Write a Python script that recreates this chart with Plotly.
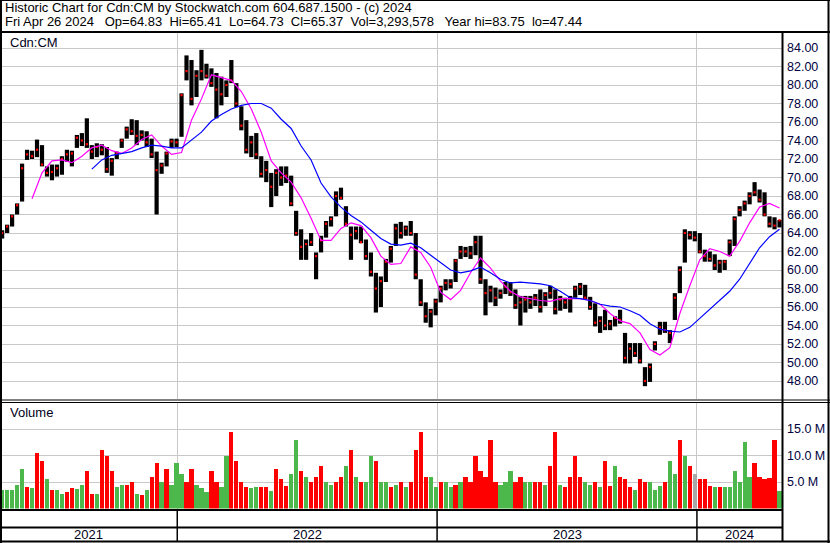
import plotly.graph_objects as go
import pandas as pd

# ---------------- data (weekly) ----------------
week_dates = pd.date_range("2021-04-30", periods=157, freq="7D")

high = [64.3, 64.9, 66.0, 67.2, 71.5, 73.0, 72.9, 74.1, 73.5, 71.2,
        71.4, 71.4, 72.3, 73.0, 72.9, 74.6, 74.8, 76.4, 73.5, 73.7,
        73.6, 73.3, 72.1, 72.8, 74.2, 75.5, 76.3, 76.2, 75.1, 75.0,
        74.2, 72.8, 71.6, 72.8, 74.2, 74.2, 79.1, 83.2, 82.7, 81.6,
        83.8, 82.3, 81.8, 81.3, 80.9, 80.5, 82.7, 80.2, 77.7, 76.2,
        74.5, 74.8, 72.3, 71.8, 70.5, 70.9, 71.2, 71.2, 70.2, 66.4,
        64.4, 63.3, 64.0, 61.9, 63.7, 65.3, 65.8, 68.5, 68.9, 66.9,
        64.7, 64.7, 64.7, 63.3, 61.9, 59.7, 59.3, 61.2, 62.6, 65.0,
        65.2, 64.8, 65.3, 64.0, 59.0, 56.5, 55.8, 56.9, 58.3, 59.0,
        59.0, 61.2, 62.6, 62.5, 62.6, 63.7, 63.7, 59.0, 58.3, 58.1,
        57.9, 58.7, 58.7, 57.9, 57.2, 57.2, 57.2, 57.4, 57.9, 57.6,
        58.3, 57.9, 57.2, 57.0, 57.2, 58.3, 58.6, 58.4, 57.1, 56.4,
        55.0, 55.7, 54.6, 55.0, 55.7, 53.2, 52.1, 52.1, 52.1, 49.5,
        49.9, 52.3, 54.4, 54.4, 53.5, 57.5, 60.4, 64.4, 64.2, 64.2,
        64.0, 62.2, 62.0, 61.7, 61.1, 61.1, 63.3, 65.8, 66.9, 67.5,
        68.4, 69.5, 68.7, 68.4, 65.8, 65.7, 65.41]

low = [63.4, 64.0, 64.7, 66.0, 67.4, 71.9, 72.0, 72.2, 71.2, 70.1,
       69.7, 70.1, 70.3, 71.7, 71.2, 73.2, 73.4, 73.2, 72.0, 72.2,
       72.4, 70.5, 70.2, 72.0, 73.2, 74.2, 74.6, 73.5, 74.0, 73.3,
       72.1, 66.0, 70.4, 71.2, 73.2, 73.3, 74.4, 80.5, 77.8, 78.7,
       80.5, 80.7, 79.8, 76.4, 77.8, 78.7, 80.2, 77.6, 75.1, 72.6,
       72.2, 72.0, 70.0, 69.5, 66.8, 68.0, 69.1, 69.4, 66.9, 63.7,
       61.1, 61.1, 62.6, 59.0, 61.9, 63.5, 64.7, 65.8, 67.6, 64.7,
       61.1, 63.3, 62.9, 61.1, 59.3, 55.4, 56.0, 58.7, 60.8, 62.6,
       63.4, 63.7, 63.7, 59.0, 56.1, 54.3, 53.8, 55.1, 56.5, 57.8,
       58.0, 58.7, 61.2, 61.4, 61.2, 61.6, 58.5, 55.1, 56.5, 56.1,
       56.9, 57.4, 57.2, 55.8, 54.0, 55.4, 55.8, 56.1, 55.4, 56.1,
       56.9, 55.2, 55.6, 55.8, 55.4, 57.0, 57.3, 56.8, 55.7, 53.9,
       53.2, 53.5, 53.5, 53.9, 54.2, 49.9, 49.9, 50.6, 49.9, 47.44,
       47.9, 51.3, 53.0, 53.2, 52.1, 54.6, 57.5, 60.8, 63.3, 63.1,
       61.8, 60.9, 60.9, 60.0, 59.7, 60.0, 61.5, 62.6, 65.8, 66.4,
       67.1, 68.0, 67.3, 65.8, 64.6, 64.4, 64.6]

close = [64.0, 64.7, 65.8, 67.0, 71.0, 72.5, 72.3, 73.0, 71.4, 70.5,
         70.6, 71.0, 72.0, 72.5, 72.6, 74.3, 74.0, 73.6, 72.8, 73.3,
         73.0, 70.9, 71.8, 72.6, 74.0, 75.2, 75.0, 74.5, 74.6, 73.8,
         72.5, 70.8, 71.3, 72.6, 73.9, 73.8, 78.9, 81.5, 78.5, 81.0,
         81.5, 81.0, 80.2, 79.5, 79.0, 80.0, 80.5, 78.0, 75.6, 73.0,
         73.8, 72.5, 70.4, 70.8, 69.0, 70.5, 70.0, 70.2, 67.2, 64.0,
         62.5, 62.8, 63.0, 61.5, 63.2, 65.0, 65.5, 68.0, 67.8, 65.0,
         63.8, 64.2, 63.0, 61.5, 59.8, 58.0, 58.8, 60.9, 62.3, 64.5,
         64.0, 64.5, 64.0, 59.5, 56.5, 55.0, 55.5, 56.6, 58.0, 58.6,
         58.5, 61.0, 62.0, 62.0, 61.8, 63.0, 59.0, 57.5, 57.8, 57.0,
         57.5, 58.2, 57.6, 56.2, 56.5, 56.8, 56.5, 57.0, 56.0, 57.3,
         57.5, 55.8, 56.8, 56.5, 56.9, 58.0, 58.2, 57.0, 56.0, 54.3,
         54.5, 54.0, 54.2, 54.8, 54.6, 50.5, 51.5, 51.0, 50.2, 48.0,
         49.5, 52.0, 53.8, 53.5, 53.2, 57.0, 60.0, 64.0, 63.8, 63.5,
         62.0, 61.5, 61.2, 60.5, 60.8, 60.9, 63.0, 65.5, 66.5, 67.2,
         68.0, 68.4, 67.6, 66.0, 65.0, 64.8, 65.37]

# moving averages, read every second week
ma_short_weeks = list(range(6, 157, 2))
ma_short = [67.7, 70.5, 71.8, 71.9, 71.6, 72.3, 73.2, 73.5, 72.9, 72.6,
            73.2, 74.1, 74.6, 73.4, 72.5, 72.7, 76.2, 78.5, 81.1, 80.8,
            80.5, 79.3, 77.4, 74.9, 71.8, 70.5, 69.5, 67.8, 65.6, 63.2,
            63.2, 64.5, 65.1, 64.8, 63.5, 61.5, 60.6, 60.7, 62.5, 61.9,
            60.3, 57.6, 56.8, 57.8, 59.7, 61.3, 60.2, 58.8, 57.7, 57.1,
            56.9, 56.7, 56.6, 56.9, 56.9, 56.9, 56.7, 56.3, 55.3, 54.5,
            54.2, 53.2, 51.4, 50.8, 51.6, 55.3, 58.3, 61.1, 62.3, 62.0,
            61.5, 63.1, 65.1, 66.8, 67.2, 66.7]

ma_long_weeks = list(range(18, 157, 2))
ma_long = [70.9, 71.9, 72.4, 72.6, 72.8, 73.2, 73.5, 73.4, 73.2, 73.2,
           74.0, 74.9, 76.1, 76.8, 77.4, 77.8, 78.0, 78.0, 77.5, 76.3,
           75.3, 73.4, 71.9, 69.4, 67.9, 66.8, 65.9, 65.2, 64.3, 63.4,
           62.8, 62.7, 62.9, 62.4, 61.6, 60.8, 60.0, 59.7, 59.9, 60.3,
           59.7, 59.0, 58.6, 58.7, 58.6, 58.5, 58.3, 57.7, 57.0, 56.9,
           56.7, 56.3, 56.1, 56.0, 55.6, 55.1, 54.2, 53.6, 53.4, 53.3,
           53.8, 54.8, 55.8, 56.8, 57.7, 59.0, 60.7, 62.4, 63.6, 64.4]

# weekly volume (millions) and direction (1 up, -1 down, 0 flat)
volume = [3.4, 3.5, 3.5, 4.5, 7.5, 4.0, 3.8, 10.5, 9.0, 5.5,
          3.5, 3.5, 2.7, 3.2, 3.8, 3.6, 4.5, 7.0, 2.8, 2.8,
          11.0, 10.0, 7.0, 4.0, 4.5, 4.5, 5.0, 2.8, 2.5, 3.5,
          6.0, 8.5, 5.0, 7.5, 4.5, 8.5, 6.5, 5.0, 7.5, 4.5,
          3.8, 3.2, 7.0, 5.0, 4.0, 10.0, 14.5, 9.0, 5.0, 4.0,
          3.8, 4.0, 4.0, 4.0, 3.3, 7.5, 5.5, 4.3, 6.5, 13.0,
          7.0, 6.0, 5.0, 6.0, 8.0, 5.0, 4.5, 5.0, 6.0, 8.0,
          11.0, 6.0, 5.0, 5.0, 10.0, 9.0, 5.0, 5.0, 4.0, 4.5,
          5.0, 4.0, 5.0, 11.0, 14.5, 6.0, 6.0, 4.0, 5.0, 5.0,
          4.0, 4.5, 5.0, 6.0, 5.0, 10.0, 7.0, 6.0, 13.0, 5.0,
          4.5, 5.0, 7.0, 5.0, 6.0, 5.0, 5.0, 5.0, 5.0, 4.5,
          8.0, 14.5, 4.5, 4.0, 6.0, 10.0, 6.0, 5.0, 4.5, 5.0,
          4.0, 9.0, 4.2, 8.0, 6.0, 5.5, 4.0, 3.5, 5.5, 5.0,
          5.0, 3.5, 4.2, 5.0, 9.0, 6.5, 13.0, 10.0, 8.0, 6.5,
          5.5, 5.5, 4.2, 4.0, 4.0, 4.0, 4.0, 7.0, 5.0, 12.5,
          6.0, 8.5, 6.0, 5.5, 5.8, 13.0, 3.3]

direction = [1, 1, 1, 1, 1, -1, 1, -1, -1, 1,
             -1, 1, 1, -1, -1, 1, 1, -1, -1, 1,
             -1, -1, -1, 1, 1, -1, -1, 1, -1, 1,
             -1, -1, 1, -1, 1, 1, 1, -1, -1, 1,
             1, 1, -1, -1, 1, 1, -1, -1, -1, -1,
             1, 1, -1, -1, 1, -1, -1, -1, 1, 1,
             -1, 1, -1, -1, -1, 1, 1, -1, -1, 1,
             -1, 1, -1, 1, 1, -1, 1, 1, -1, 1,
             -1, 1, -1, -1, -1, -1, 1, 1, -1, 1,
             1, -1, 1, -1, -1, -1, -1, -1, -1, -1,
             1, 1, 1, -1, -1, 1, 1, -1, -1, 1,
             -1, -1, 1, -1, -1, -1, -1, 1, 1, -1,
             1, -1, -1, 1, -1, -1, -1, 1, -1, -1,
             1, 1, 1, -1, 1, 1, -1, 1, -1, 0,
             -1, -1, -1, 1, -1, 1, 1, 1, 1, 1,
             1, -1, -1, -1, -1, -1, 1]

price_ticks = [84, 82, 80, 78, 76, 74, 72, 70, 68, 66, 64, 62, 60, 58, 56, 54, 52, 50, 48]
volume_ticks = [5, 10, 15]
year_starts = ["2022-01-01", "2023-01-01", "2024-01-01"]
year_labels = ["2021", "2022", "2023", "2024"]

header1 = "Historic Chart for Cdn:CM by Stockwatch.com 604.687.1500 - (c) 2024"
header2 = ("Fri Apr 26 2024\u00a0\u00a0 Op=64.83\u00a0 Hi=65.41\u00a0 Lo=64.73\u00a0 Cl=65.37"
           "\u00a0 Vol=3,293,578\u00a0\u00a0 Year hi=83.75\u00a0 lo=47.44")

# ---------------- figure ----------------
W, H = 830, 543
X_START, X_END = pd.Timestamp("2021-04-27"), pd.Timestamp("2024-04-29 12:00")


def py(y):
    return 1 - y / H


def px(x):
    return x / W


GREEN, RED, GRAY = "#4cb84c", "#ff0000", "#a8a8a8"
FONT = "Liberation Sans, Arial, sans-serif"

fig = go.Figure()

# price high-low bars
bx, by = [], []
for d, lo, hi in zip(week_dates, low, high):
    bx += [d, d, None]
    by += [lo, hi, None]
fig.add_trace(go.Scatter(x=bx, y=by, mode="lines", line=dict(color="black", width=4.2),
                         hoverinfo="skip", showlegend=False, yaxis="y"))
fig.add_trace(go.Scatter(x=week_dates, y=close, mode="markers",
                         marker=dict(symbol="square", size=2.2, color=RED, line=dict(width=0)),
                         showlegend=False, yaxis="y"))
fig.add_trace(go.Scatter(x=week_dates[ma_short_weeks], y=ma_short, mode="lines",
                         line=dict(color="#ff00ff", width=1.2), showlegend=False, yaxis="y"))
fig.add_trace(go.Scatter(x=week_dates[ma_long_weeks], y=ma_long, mode="lines",
                         line=dict(color="#0000ff", width=1.2), showlegend=False, yaxis="y"))

vcolors = [GREEN if d > 0 else (RED if d < 0 else GRAY) for d in direction]
fig.add_trace(go.Bar(x=week_dates, y=volume, marker=dict(color=vcolors, line=dict(width=0)),
                     width=7 * 24 * 3600 * 1000 * 0.85, showlegend=False, yaxis="y2"))

grid = "#c8c8c8"
fig.update_layout(
    width=W, height=H, margin=dict(l=0, r=0, t=0, b=0),
    paper_bgcolor="white", plot_bgcolor="white",
    font=dict(family=FONT, size=12, color="black"),
    bargap=0,
    xaxis=dict(domain=[0, px(782)], range=[X_START, X_END], anchor="y2",
               tickvals=year_starts, showticklabels=False, ticks="",
               showgrid=True, gridcolor=grid, gridwidth=1, zeroline=False, showline=False),
    yaxis=dict(domain=[py(399), py(33)], range=[84 - (399 - 48) / 9.25, 84 + 15 / 9.25],
               side="right", anchor="x", tickvals=price_ticks,
               ticktext=[f"{v:.2f}" for v in price_ticks], ticks="",
               tickfont=dict(family=FONT, size=12.5, color="#000040"),
               ticklabelstandoff=4,
               showgrid=True, gridcolor=grid, gridwidth=1, zeroline=False, showline=False),
    yaxis2=dict(domain=[py(508.5), py(402)], range=[0, (508.5 - 402) / 5.3],
                side="right", anchor="x", tickvals=volume_ticks,
                ticktext=[f"{v:.1f} M" for v in volume_ticks], ticks="",
                tickfont=dict(family=FONT, size=12.5, color="#000040"),
                ticklabelstandoff=4,
                showgrid=True, gridcolor=grid, gridwidth=1, zeroline=False, showline=False),
)

shapes = []


def hline(y, x0, x1, w, color="black"):
    shapes.append(dict(type="line", xref="paper", yref="paper", x0=px(x0), x1=px(x1),
                       y0=py(y), y1=py(y), line=dict(color=color, width=w)))


def vline(x, y0, y1, w, color="black"):
    shapes.append(dict(type="line", xref="paper", yref="paper", x0=px(x), x1=px(x),
                       y0=py(y0), y1=py(y1), line=dict(color=color, width=w)))


hline(0.5, 0, W, 1)
hline(32, 0, W, 2)
hline(400, 0, W, 1.2)
hline(402.5, 0, W, 1.2)
hline(510, 0, 782, 2)
hline(527.5, 0, 782, 2)
hline(541.5, 0, W, 2)
vline(1, 0, H, 2)
vline(828.5, 0, H, 2)
vline(782.5, 33, 542, 2)
for ys in year_starts:
    shapes.append(dict(type="line", xref="x", yref="paper", x0=ys, x1=ys,
                       y0=py(510), y1=py(541), line=dict(color="black", width=1.5)))
fig.update_layout(shapes=shapes)

ann = []
ann.append(dict(text=header1, x=px(3), y=py(7.5), xref="paper", yref="paper",
                xanchor="left", yanchor="middle", showarrow=False,
                font=dict(family=FONT, size=13, color="black")))
ann.append(dict(text=header2, x=px(3), y=py(21.5), xref="paper", yref="paper",
                xanchor="left", yanchor="middle", showarrow=False,
                font=dict(family=FONT, size=13, color="black")))
ann.append(dict(text="Cdn:CM", x=px(8), y=py(42), xref="paper", yref="paper",
                xanchor="left", yanchor="middle", showarrow=False,
                font=dict(family=FONT, size=13, color="#000020")))
ann.append(dict(text="Volume", x=px(8), y=py(413), xref="paper", yref="paper",
                xanchor="left", yanchor="middle", showarrow=False,
                font=dict(family=FONT, size=13, color="#000020")))
bounds = [X_START] + [pd.Timestamp(s) for s in year_starts] + [pd.Timestamp("2024-04-29")]
for i, lab in enumerate(year_labels):
    mid = bounds[i] + (bounds[i + 1] - bounds[i]) / 2
    ann.append(dict(text=lab, x=mid, y=py(534.5), xref="x", yref="paper",
                    xanchor="center", yanchor="middle", showarrow=False,
                    font=dict(family=FONT, size=13, color="#000020")))
fig.update_layout(annotations=ann)

fig.write_html("out.html", config={"displayModeBar": False},
               post_script="document.body.style.margin='0';document.body.style.padding='0';"
                           "document.body.style.overflow='hidden';")
